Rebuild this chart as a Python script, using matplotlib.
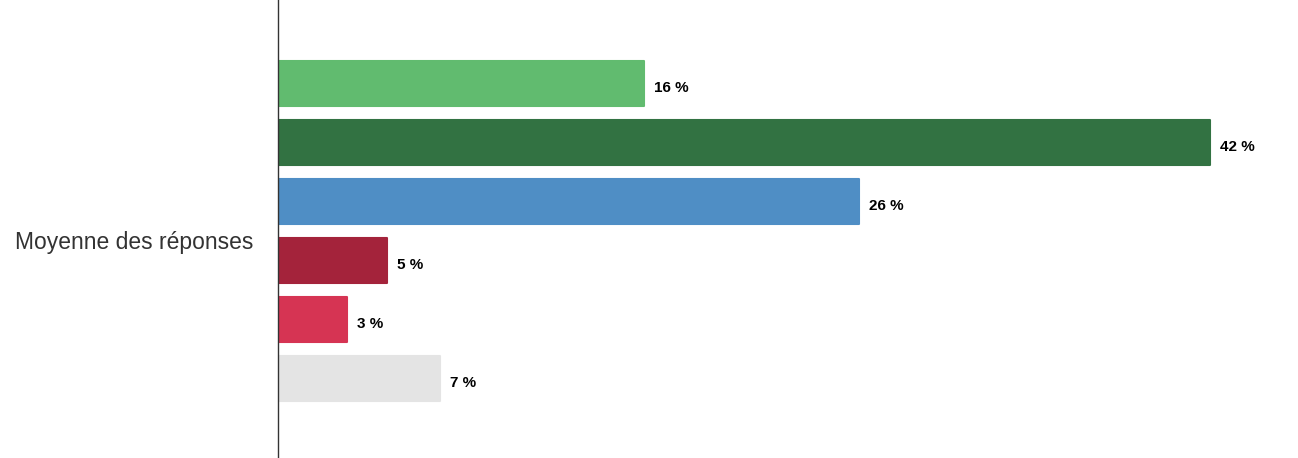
import matplotlib
matplotlib.use("Agg")
import matplotlib.pyplot as plt

plt.rcParams['font.family'] = ['Liberation Sans', 'DejaVu Sans']

category = "Moyenne des réponses"
values = [16.5, 42.0, 26.2, 4.9, 3.1, 7.3]
value_labels = ["16 %", "42 %", "26 %", "5 %", "3 %", "7 %"]
colors = ["#61bb6f", "#327242", "#4f8ec5", "#a4233b", "#d63453", "#e4e4e4"]

W, H, DPI = 1298, 458, 100
fig = plt.figure(figsize=(W / DPI, H / DPI), dpi=DPI)
ax = fig.add_axes([278 / W, 0, (W - 278) / W, 1])

pos = list(range(len(values)))
ax.barh(pos, values, height=0.76, color=colors, edgecolor=colors,
        linewidth=1.5, joinstyle='round', zorder=2)

for p, v, lab in zip(pos, values, value_labels):
    ax.annotate(lab, xy=(v, p), xytext=(10, -4), textcoords='offset pixels',
                ha='left', va='center', fontsize=11, fontweight='bold', color='#000000')

ax.set_xlim(0, 45.96)
ax.set_ylim(6.34, -1.42)
ax.set_xticks([])
ax.set_yticks([2.65])
ax.set_yticklabels([category], fontsize=16.5, color='#333333')
ax.tick_params(axis='y', length=0, pad=18)
for s in ['top', 'right', 'bottom']:
    ax.spines[s].set_visible(False)
ax.spines['left'].set_color('#333333')
ax.spines['left'].set_linewidth(1)
ax.spines['left'].set_zorder(3)

fig.savefig("out.png", dpi=DPI)
